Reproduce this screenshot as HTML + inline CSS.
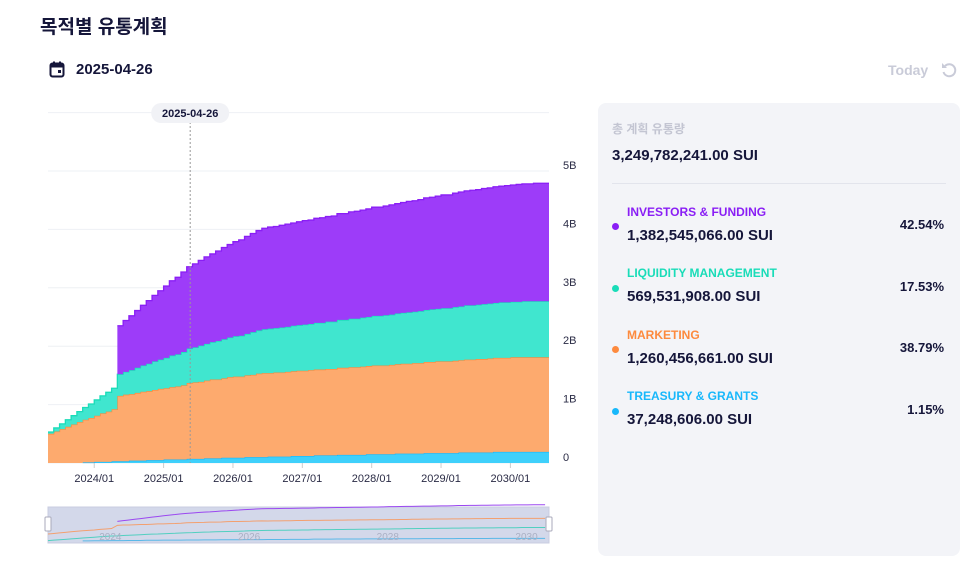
<!DOCTYPE html>
<html><head><meta charset="utf-8">
<style>
body{margin:0;width:966px;height:562px;background:#fff;font-family:"Liberation Sans","Noto Sans CJK KR",sans-serif;color:#1a1a3a;position:relative;overflow:hidden}
.abs{position:absolute}
.title{left:40px;top:12px;font-size:19px;font-weight:bold;color:#15163a}
.date{left:76px;top:61px;font-size:15px;font-weight:bold;color:#15163a}
.today{left:888px;top:62px;font-size:14px;font-weight:bold;color:#c9cbd8}
.panel{left:598px;top:103px;width:362px;height:453px;background:#f3f4f8;border-radius:8px}
.lbl{font-size:12px;font-weight:bold}
.val{font-size:15px;font-weight:bold;color:#15163a}
.pct{font-size:13px;font-weight:bold;color:#15163a;right:16px}
.dot{width:7px;height:7px;border-radius:50%;left:14px}
</style></head><body>
<div class="abs title">목적별 유통계획</div>
<svg class="abs" style="left:49px;top:61px" width="18" height="18"><rect x="1.5" y="2.5" width="13" height="13" rx="2" fill="none" stroke="#15163a" stroke-width="2"/><rect x="1.5" y="2.5" width="13" height="4" fill="#15163a"/><rect x="4" y="0.5" width="2" height="3" fill="#15163a"/><rect x="10" y="0.5" width="2" height="3" fill="#15163a"/><rect x="9" y="9" width="3" height="3" fill="#15163a"/></svg>
<div class="abs date">2025-04-26</div>
<div class="abs today">Today</div>
<svg class="abs" style="left:940px;top:61px" width="18" height="18"><path d="M5 5 A6 6 0 1 1 3.5 11" fill="none" stroke="#c9cbd8" stroke-width="2"/><path d="M2 2 L2 7 L7 7 Z" fill="#c9cbd8"/></svg>

<svg id="chart" class="abs" style="left:0;top:0" width="590" height="562"></svg>

<div class="abs panel">
 <div class="abs" style="left:14px;top:17px;font-size:12px;font-weight:bold;color:#c3c5d2">총 계획 유통량</div>
 <div class="abs val" style="left:14px;top:44px">3,249,782,241.00 SUI</div>
 <div class="abs" style="left:14px;top:80px;width:334px;height:1px;background:#e2e4ec"></div>
 <div class="abs dot" style="top:120px;background:#8a1ef5"></div>
 <div class="abs lbl" style="left:29px;top:102px;color:#8a1ef5">INVESTORS &amp; FUNDING</div>
 <div class="abs val" style="left:29px;top:124px">1,382,545,066.00 SUI</div>
 <div class="abs pct" style="top:114px">42.54%</div>
 <div class="abs dot" style="top:182px;background:#19dcb8"></div>
 <div class="abs lbl" style="left:29px;top:163px;color:#19dcb8">LIQUIDITY MANAGEMENT</div>
 <div class="abs val" style="left:29px;top:185px">569,531,908.00 SUI</div>
 <div class="abs pct" style="top:176px">17.53%</div>
 <div class="abs dot" style="top:243px;background:#fd8a3e"></div>
 <div class="abs lbl" style="left:29px;top:225px;color:#fd8a3e">MARKETING</div>
 <div class="abs val" style="left:29px;top:247px">1,260,456,661.00 SUI</div>
 <div class="abs pct" style="top:237px">38.79%</div>
 <div class="abs dot" style="top:305px;background:#18b8fb"></div>
 <div class="abs lbl" style="left:29px;top:286px;color:#18b8fb">TREASURY &amp; GRANTS</div>
 <div class="abs val" style="left:29px;top:308px">37,248,606.00 SUI</div>
 <div class="abs pct" style="top:299px">1.15%</div>
</div>

<script>
// monthly from 2023-05, values in billions SUI
const startYear = 2023, startMonth = 5;
const treasury = [0,0,0,0,0,0,
0.01,0.01,0.02,0.02,0.02,0.03,0.03,0.03,0.04,0.04,
0.04,0.05,0.05,0.05,0.06,0.06,0.06,0.06,0.07,0.07,
0.07,0.08,0.08,0.08,0.09,0.09,0.09,0.09,0.10,0.10,
0.10,0.10,0.11,0.11,0.11,0.11,0.12,0.12,0.12,0.12,
0.13,0.13,0.13,0.13,0.14,0.14,0.14,0.14,0.14,0.15,
0.15,0.15,0.15,0.15,0.16,0.16,0.16,0.16,0.16,0.17,
0.17,0.17,0.17,0.17,0.17,0.18,0.18,0.18,0.18,0.18,
0.18,0.19,0.19,0.19,0.19,0.19,0.19,0.19,0.19,0.19,0.19];
const marketing = [0.50,0.54,0.58,0.62,0.66,0.70,
0.73,0.76,0.79,0.83,0.86,0.89,
1.12,1.14,1.14,1.16,1.18,1.18,1.20,1.22,1.22,1.24,1.25,1.27,
1.30,1.31,1.32,1.33,1.35,1.35,1.36,1.38,1.39,1.39,1.40,1.41,1.43,1.44,
1.43,1.44,1.44,1.45,1.45,1.46,1.46,1.47,1.47,1.47,
1.48,1.48,1.49,1.49,1.50,1.50,1.51,1.51,1.52,1.52,
1.52,1.53,1.53,1.54,1.54,1.55,1.55,1.56,1.56,1.57,
1.57,1.57,1.58,1.58,1.59,1.59,1.60,1.60,1.61,1.61,
1.61,1.61,1.62,1.62,1.62,1.62,1.62,1.62,1.62];
const liquidity = [0.03,0.06,0.09,0.12,0.15,0.18,0.21,0.24,0.27,0.30,0.33,0.36,
0.37,0.39,0.41,0.43,0.45,0.47,0.49,0.50,0.52,0.54,0.55,0.57,
0.59,0.60,0.62,0.63,0.64,0.66,0.67,0.68,0.69,0.70,0.71,0.73,0.74,0.75,
0.76,0.76,0.77,0.77,0.78,0.78,0.79,0.79,0.80,0.80,
0.81,0.81,0.82,0.82,0.83,0.83,0.84,0.84,0.85,0.85,
0.86,0.86,0.87,0.87,0.88,0.88,0.89,0.89,0.90,0.90,
0.91,0.91,0.92,0.92,0.93,0.93,0.93,0.94,0.94,0.94,
0.95,0.95,0.95,0.95,0.96,0.96,0.96,0.96,0.96];
const investors = [0,0,0,0,0,0,0,0,0,0,0,0,
0.83,0.88,0.93,0.98,1.03,1.08,1.13,1.18,1.23,1.28,1.32,1.37,
1.40,1.43,1.46,1.49,1.51,1.54,1.57,1.59,1.62,1.64,1.67,1.69,1.71,1.73,
1.74,1.74,1.75,1.76,1.76,1.77,1.78,1.78,1.79,1.80,
1.80,1.81,1.82,1.82,1.83,1.84,1.84,1.85,1.86,1.86,
1.87,1.88,1.88,1.89,1.90,1.90,1.91,1.92,1.92,1.93,
1.94,1.94,1.95,1.96,1.96,1.97,1.97,1.98,1.98,1.99,
1.99,2.00,2.00,2.01,2.01,2.01,2.02,2.02,2.02];
const yTicks = [0,1,2,3,4,5];
const yTickLabels = ["0","1B","2B","3B","4B","5B"];
const xTickLabels = ["2024/01","2025/01","2026/01","2027/01","2028/01","2029/01","2030/01"];
const xTickMonths = [8,20,32,44,56,68,80];
const markerMonth = 24.6;
const markerLabel = "2025-04-26";

const NS="http://www.w3.org/2000/svg";
const svg=document.getElementById('chart');
const X0=48,X1=549,MPX=5.78,Y0=463,BPX=58.4;
const xs=m=>X0+m*MPX;
const ys=v=>Y0-v*BPX;
function el(t,a){const e=document.createElementNS(NS,t);for(const k in a)e.setAttribute(k,a[k]);svg.appendChild(e);return e;}
for(let v=0;v<=6;v++){const g=el('line',{x1:X0,x2:X1,y1:ys(v),y2:ys(v),stroke:'#eef0f4','stroke-width':1});

}
const series=[[treasury,'#3fd0fb','#18b8fb','treasury-area'],[marketing,'#fdaa6e','#fd8a3e','marketing-area'],[liquidity,'#40e6cf','#19dcb8','liquidity-area'],[investors,'#9d3cf9','#8a1ef5','investors-area']];
const n=treasury.length;
let base=new Array(n).fill(0);
series.forEach(([arr,fill,stroke,name])=>{
  const top=base.map((b,i)=>b+arr[i]);
  let s=0;while(s<n&&arr[s]<=0)s++;
  if(s<n){
    let top_d='';
    for(let i=s;i<n;i++){const xa=xs(i),xb=i<n-1?xs(i+1):X1;
      top_d+=(i===s?'M':'L')+xa+','+ys(top[i])+'L'+xb+','+ys(top[i]);}
    let bd='';for(let i=n-1;i>=s;i--){const xa=xs(i),xb=i<n-1?xs(i+1):X1;bd+='L'+xb+','+ys(base[i])+'L'+xa+','+ys(base[i]);}
    const p=el('path',{d:top_d+bd+'Z',fill:fill});
    
    
    const l=el('path',{d:top_d,fill:'none',stroke:stroke,'stroke-width':1.3});
    
    
  }
  base=top;
});
yTicks.forEach((v,i)=>{const t=el('text',{x:563,y:ys(v)-2,'font-size':11,fill:'#2a2b45'});t.textContent=yTickLabels[i];

});
xTickMonths.forEach((m,i)=>{el('line',{x1:xs(m),x2:xs(m),y1:Y0,y2:Y0+5,stroke:'#ccc'});
const t=el('text',{x:xs(m),y:482,'font-size':11,fill:'#2a2b45','text-anchor':'middle'});t.textContent=xTickLabels[i];

});
const mx=xs(markerMonth);
const ml=el('line',{x1:mx,x2:mx,y1:122,y2:Y0,stroke:'#999','stroke-dasharray':'2,2','stroke-width':1});


const mr=el('rect',{x:mx-39,y:103,width:78,height:20,rx:10,fill:'#f1f2f6'});


const mt=el('text',{x:mx,y:117,'font-size':11,'font-weight':'bold',fill:'#15163a','text-anchor':'middle'});mt.textContent=markerLabel;


const sr=el('rect',{x:X0,y:507,width:X1-X0,height:36,fill:'#d3d8ea',stroke:'#c9cde0'});


const SY=541;
const mini=[[treasury,'#5ab8e8'],[liquidity,'#52cfc0'],[marketing,'#f3a070'],[investors,'#9b48f0']];
mini.forEach(([arr,c])=>{let d='';
  for(let i=0;i<n;i++){if(arr[i]<=0&&arr!==marketing&&arr!==liquidity)continue;d+=(d?'L':'M')+xs(i)+','+(SY-arr[i]*14-(arr===investors?8:0));}
  const p=el('path',{d:d,fill:'none',stroke:c,'stroke-width':1});
  
  });
["2024","2026","2028","2030"].forEach((y,i)=>{const t=el('text',{x:xs(8+24*i)+5,y:540,'font-size':10,fill:'#aab0c4'});t.textContent=y;

});
[X0,X1].forEach(x=>{const h=el('rect',{x:x-3,y:517,width:6,height:14,rx:1,fill:'#fff',stroke:'#aab'});

});
</script>
</body></html>
